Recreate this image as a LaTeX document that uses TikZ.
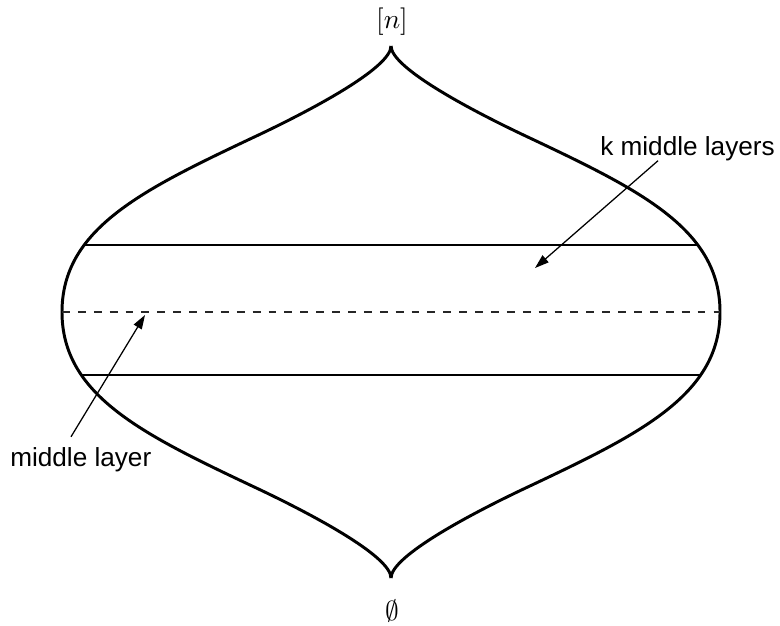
\documentclass[tikz,border=0pt]{standalone}
\usepackage{fontspec}
\setsansfont{Liberation Sans}
\usepackage{graphicx}
\usepackage{tikz}
\usetikzlibrary{arrows.meta,calc}

\begin{document}
\begin{tikzpicture}[
            x=0.025cm, y=-0.025cm,
            outline/.style={line width=2.1pt, line join=round},
            layer/.style={line width=1.4pt},
            midlayer/.style={line width=0.9pt, black!85,
            dash pattern=on 5.6pt off 5.7pt},
            pointer/.style={-{Triangle[length=10pt,width=6.5pt]}, line width=0.9pt},
            txtlbl/.style={font=\fontsize{18.6}{22}\sffamily, inner sep=0pt},
            mathlbl/.style={inner sep=0pt}
        ]
\useasboundingbox (0,0) rectangle (780,625);

% --- the lens: left and right halves meeting in two cusps ---
            \draw[outline] (391,46) .. controls (391,68) and (310,111) .. (250,139)
                .. controls (140,191) and (62,230) .. (62,312)
                .. controls (62,394) and (140,433) .. (250,485)
                .. controls (310,513) and (391,556) .. (391,578);
            \draw[outline] (391,46) .. controls (391,68) and (472,111) .. (532,139)
                .. controls (642,191) and (720,230) .. (720,312)
                .. controls (720,394) and (642,433) .. (532,485)
                .. controls (472,513) and (391,556) .. (391,578);

% --- layers ---
            \draw[layer]    (84,245) -- (698,245);
            \draw[midlayer] (62,312) -- (720,312);
            \draw[layer]    (82,375) -- (700,375);

% --- top and bottom labels ---
            \node[mathlbl] (top) at (392,22)  {\scalebox{1.95}{$[n]$}};
            \node[mathlbl] (bot) at (392,611) {\scalebox{1.95}{$\emptyset$}};

% --- side labels with pointers ---
            \node[txtlbl, anchor=base west] (klab) at (600,155) {k middle layers};
            \node[txtlbl, anchor=base west] (mlab) at (10,466)  {middle layer};

            \coordinate (kto) at (535,268);
            \coordinate (mto) at (145,315);

            \draw[pointer] ($(klab.south west)+(58,0)$)  -- (kto);
            \draw[pointer] ($(mlab.north west)+(61,-10)$) -- (mto);
\end{tikzpicture}
\end{document}
